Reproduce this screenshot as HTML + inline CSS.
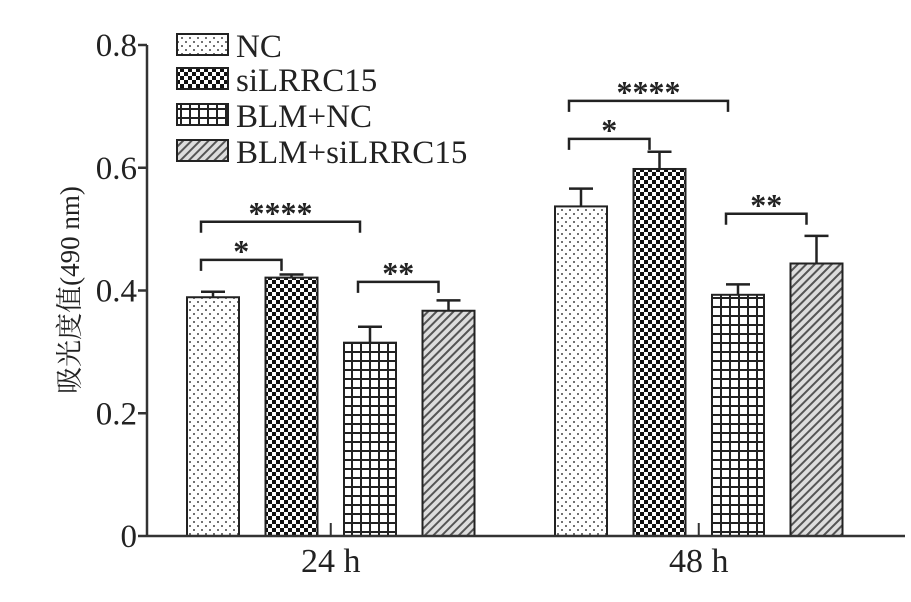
<!DOCTYPE html>
<html><head><meta charset="utf-8"><style>
html,body{margin:0;padding:0;background:#fff}
svg{display:block;font-family:"Liberation Serif","Noto Serif CJK SC",serif}
</style></head><body>
<svg id="chart" width="911" height="602" viewBox="0 0 911 602" xmlns="http://www.w3.org/2000/svg">
<defs>
<pattern id="p0" width="8" height="8" patternUnits="userSpaceOnUse"><rect width="8" height="8" fill="#fff"/><circle cx="2" cy="2" r="1" fill="#444"/><circle cx="6" cy="6" r="1" fill="#444"/></pattern>
<pattern id="p1" width="8" height="8" patternUnits="userSpaceOnUse"><rect width="8" height="8" fill="#fff"/><rect x="0" y="0" width="4" height="4" fill="#111"/><rect x="4" y="4" width="4" height="4" fill="#111"/></pattern>
<pattern id="p2" width="9" height="9" patternUnits="userSpaceOnUse"><rect width="9" height="9" fill="#fff"/><rect x="0" y="0" width="2" height="9" fill="#222"/><rect x="0" y="0" width="9" height="2" fill="#222"/></pattern>
<pattern id="p3" width="6" height="6" patternUnits="userSpaceOnUse" patternTransform="rotate(45)"><rect width="6" height="6" fill="#ddd"/><rect x="0" y="0" width="2" height="6" fill="#555"/></pattern>
</defs>
<g id="plot"></g>
</svg>
<script>
const groups = ["24 h", "48 h"];
const seriesNames = ["NC", "siLRRC15", "BLM+NC", "BLM+siLRRC15"];
const means = [[0.389, 0.421, 0.315, 0.367], [0.537, 0.598, 0.393, 0.444]];
const errs = [[0.009, 0.005, 0.026, 0.017], [0.029, 0.028, 0.017, 0.045]];
const yTicks = [0, 0.2, 0.4, 0.6, 0.8];
const yTickLabels = ["0", "0.2", "0.4", "0.6", "0.8"];
// significance: [group, seriesA, seriesB, label, level]
const sigs = [[0,0,1,"*",0.45],[0,0,2,"****",0.512],[0,2,3,"**",0.414],[1,0,1,"*",0.647],[1,0,2,"****",0.709],[1,2,3,"**",0.525]];

const NS="http://www.w3.org/2000/svg";
const g=document.getElementById('plot');
const X0=147, Y0=536, YTOP=45, YMAX=0.8;
const y=v=>Y0-(v/YMAX)*(Y0-YTOP);
const groupStart=[187,555], barStep=78.5, barW=52;
const bx=(gi,si)=>groupStart[gi]+si*barStep;
function el(t,a,txt){const e=document.createElementNS(NS,t);for(const k in a)e.setAttribute(k,a[k]);if(txt!==undefined)e.textContent=txt;g.appendChild(e);return e;}

means.forEach((row,gi)=>row.forEach((v,si)=>{
  const x=bx(gi,si);
  const b=el('rect',{x:x,y:y(v),width:barW,height:Y0-y(v),fill:'url(#p'+si+')',stroke:'#222','stroke-width':2});
  
  
  const cx=x+barW/2, top=y(v+errs[gi][si]);
  const e1=el('line',{x1:cx,x2:cx,y1:y(v),y2:top,stroke:'#222','stroke-width':2.5});
  
  
  const e2=el('line',{x1:cx-12,x2:cx+12,y1:top,y2:top,stroke:'#222','stroke-width':2.5});
  
  
}));

const ax=el('line',{x1:X0,x2:X0,y1:YTOP,y2:Y0,stroke:'#333','stroke-width':2.5});


const xa=el('line',{x1:X0,x2:905,y1:Y0,y2:Y0,stroke:'#333','stroke-width':2.5});


yTicks.forEach((t,i)=>{
  const tk=el('line',{x1:X0-9,x2:X0,y1:y(t),y2:y(t),stroke:'#333','stroke-width':2.5});
  
  
  const tl=el('text',{x:X0-10,y:y(t)+11,'text-anchor':'end','font-size':33,fill:'#222'},yTickLabels[i]);
  
  
});
groups.forEach((gn,gi)=>{
  const cx=(bx(gi,0)+bx(gi,3)+barW)/2;
  const tk=el('line',{x1:cx,x2:cx,y1:Y0-13,y2:Y0,stroke:'#333','stroke-width':2});
  
  
  const tl=el('text',{x:cx,y:Y0+36,'text-anchor':'middle','font-size':34,fill:'#222'},gn);
  
  
});
const yt=el('text',{x:0,y:0,transform:'translate(79,290) rotate(-90)','text-anchor':'middle','font-size':27,fill:'#222'},'吸光度值(490 nm)');



sigs.forEach(s=>{
  const x1=bx(s[0],s[1])+barW/2-12, x2=bx(s[0],s[2])+barW/2-10, yy=y(s[4]);
  const p=el('path',{d:`M${x1},${yy+11}V${yy}H${x2}V${yy+11}`,fill:'none',stroke:'#222','stroke-width':2.5});
  
  
  const t=el('text',{x:(x1+x2)/2,y:yy+2,'text-anchor':'middle','font-size':32,'font-weight':'bold',fill:'#222'},s[3]);
  
  
});

const legY=[34,68,104,140];
seriesNames.forEach((n,i)=>{
  const r=el('rect',{x:177,y:legY[i],width:51,height:21,fill:'url(#p'+i+')',stroke:'#222','stroke-width':2});
  
  
  const t=el('text',{x:236,y:legY[i]+23,'font-size':33,fill:'#222'},n);
  
  
});
</script>
</body></html>
